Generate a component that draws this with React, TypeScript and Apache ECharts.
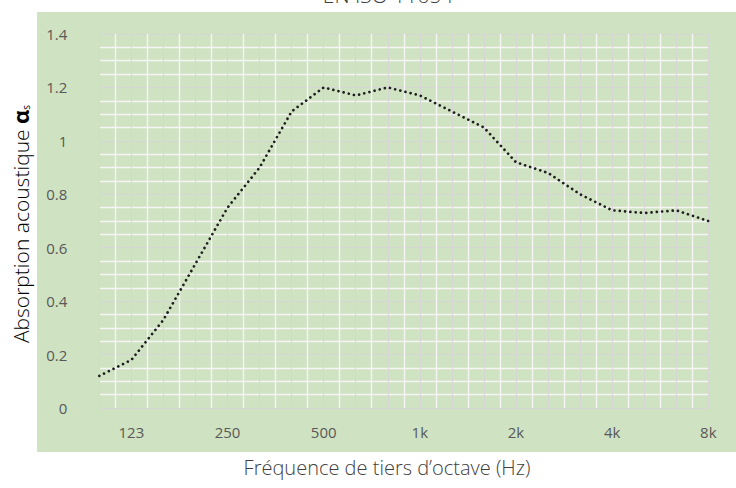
import React, { useEffect, useRef } from "react";
import * as echarts from "echarts";

// Third-octave band centres (Hz), one category per band
const bands = ["100", "125", "160", "200", "250", "315", "400", "500", "630", "800", "1000", "1250", "1600", "2000", "2500", "3150", "4000", "5000", "6300", "8000"];
// Sound absorption coefficient alpha_s per band
const absorption = [0.12, 0.18, 0.33, 0.54, 0.75, 0.9, 1.11, 1.2, 1.17, 1.2, 1.17, 1.11, 1.05, 0.92, 0.88, 0.8, 0.74, 0.73, 0.74, 0.7];
// Labelled bands on the x axis and their texts
const tickIndices = [1, 4, 7, 10, 13, 16, 19];
const tickLabels = ["123", "250", "500", "1k", "2k", "4k", "8k"];
const titleText = "EN ISO 11654";
const xTitle = "Fréquence de tiers d’octave (Hz)";
const yTitle = "Absorption acoustique ";

export default function App() {
  const ref = useRef<HTMLDivElement>(null);
  useEffect(() => {
    if (!ref.current) return;
    const chart = echarts.init(ref.current, null, { renderer: "svg" });
    const font = "'Open Sans', 'DejaVu Sans', sans-serif";
    chart.setOption({
      animation: false,
      backgroundColor: "#ffffff",
      grid: { left: 99.3, top: 34, width: 609, height: 374, containLabel: false },
      xAxis: {
        type: "value",
        min: 0,
        max: bands.length - 1,
        interval: 1,
        axisLine: { show: false },
        axisTick: { show: false },
        axisLabel: {
          color: "#595959",
          fontSize: 15,
          fontFamily: font,
          margin: 16,
          showMinLabel: true,
          showMaxLabel: true,
          formatter: (v: number) => {
            const i = tickIndices.indexOf(Math.round(v));
            return i >= 0 ? tickLabels[i] : "";
          },
        },
        splitLine: { show: true, lineStyle: { color: "#d6d6d6", width: 1 } },
        minorTick: { show: false, splitNumber: 2 },
        minorSplitLine: { show: true, lineStyle: { color: "#f5f5f5", width: 1.4 } },
      },
      yAxis: {
        type: "value",
        min: 0,
        max: 1.4,
        interval: 0.2,
        axisLine: { show: false },
        axisTick: { show: false },
        axisLabel: { color: "#595959", fontSize: 15, fontFamily: font, margin: 32 },
        splitLine: { show: true, lineStyle: { color: "#d6d6d6", width: 1 } },
        minorTick: { show: false, splitNumber: 4 },
        minorSplitLine: { show: true, lineStyle: { color: "#f5f5f5", width: 1.4 } },
      },
      graphic: [
        {
          type: "rect",
          z: -10,
          silent: true,
          shape: { x: 37, y: 12, width: 710, height: 440 },
          style: { fill: "#cfe2c2" },
        },
        {
          type: "text",
          x: 388,
          y: 5,
          silent: true,
          style: {
            text: titleText,
            fill: "#404040",
            font: `300 21px ${font}`,
            textAlign: "center",
            textVerticalAlign: "bottom",
          },
        },
        {
          type: "text",
          x: 387,
          y: 467,
          silent: true,
          style: {
            text: xTitle,
            fill: "#404040",
            font: `300 20px ${font}`,
            textAlign: "center",
            textVerticalAlign: "middle",
          },
        },
        {
          type: "text",
          x: 20,
          y: 224,
          rotation: Math.PI / 2,
          silent: true,
          style: {
            text: `{n|${yTitle}}{a|α}{s|s}`,
            textAlign: "center",
            textVerticalAlign: "middle",
            rich: {
              n: { fontSize: 21, fontFamily: font, fontWeight: 300, color: "#404040", verticalAlign: "bottom" },
              a: { fontSize: 22, fontFamily: font, fontWeight: "bold", color: "#404040", verticalAlign: "bottom" },
              s: { fontSize: 10, fontFamily: font, color: "#404040", verticalAlign: "bottom" },
            },
          },
        },
      ],
      series: [
        {
          type: "line",
          data: absorption.map((v, i) => [i, v]),
          showSymbol: false,
          symbol: "none",
          z: 5,
          lineStyle: { color: "#1e1e1e", width: 2.7, type: [0.01, 5.3], cap: "round" },
        },
      ],
    });
    return () => chart.dispose();
  }, []);
  return <div ref={ref} style={{ position: "fixed", left: 0, top: 0, width: 736, height: 488 }} />;
}
